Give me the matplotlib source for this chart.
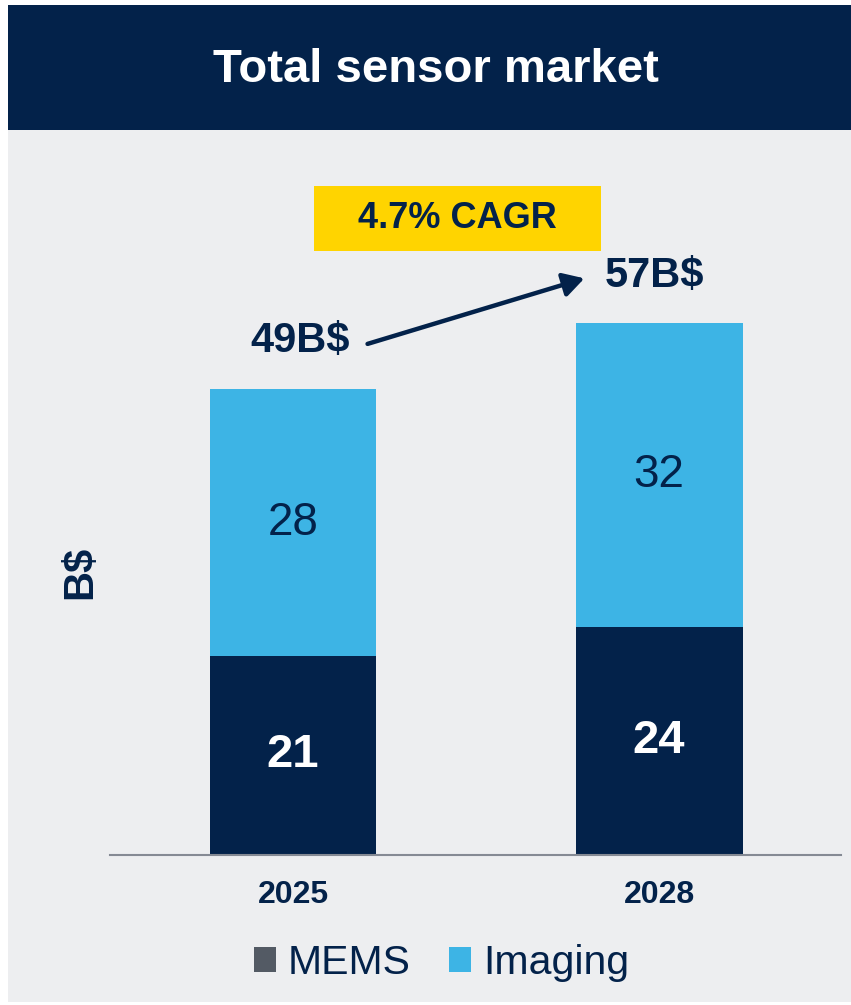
import matplotlib
matplotlib.use("Agg")
import matplotlib.pyplot as plt
from matplotlib.patches import Rectangle, Patch

plt.rcParams['font.family'] = ['Liberation Sans', 'DejaVu Sans']

# data
years = ['2025', '2028']
mems = [21, 24]
imaging = [28, 32]
totals = [49, 57]
total_labels = ['49B$', '57B$']
cagr_text = '4.7% CAGR'

NAVY = '#03224a'
BLUE = '#3db4e5'
BG = '#edeef0'
YELLOW = '#ffd400'
LEGEND_GRAY = '#535a64'

W, H = 851, 1005


def fx(px):
    return px / W


def fy(py):
    return 1 - py / H


fig = plt.figure(figsize=(W / 100, H / 100), dpi=100)
fig.patch.set_facecolor('white')

# gray panel and title banner
fig.patches.append(Rectangle((fx(8), fy(1002)), fx(851) - fx(8), fy(130) - fy(1002),
                             transform=fig.transFigure, facecolor=BG, edgecolor='none', zorder=-2))
fig.patches.append(Rectangle((fx(8), fy(130)), fx(851) - fx(8), fy(5) - fy(130),
                             transform=fig.transFigure, facecolor=NAVY, edgecolor='none', zorder=-2))
fig.text(fx(436), fy(70), 'Total sensor market', color='white', fontsize=34,
         fontweight='bold', ha='center', va='center')

ax = fig.add_axes([fx(110), fy(855), fx(841) - fx(110), 665 / H])
ax.set_facecolor('none')
ax.set_zorder(2)

x = list(range(len(years)))
b1 = ax.bar(x, mems, width=0.456, color=NAVY, zorder=2)
b2 = ax.bar(x, imaging, width=0.456, bottom=mems, color=BLUE, zorder=2)

ax.bar_label(b1, label_type='center', color='white', fontsize=34, fontweight='bold')
ax.bar_label(b2, label_type='center', color=NAVY, fontsize=33)

# total labels above bars
offsets = [(5, 35), (-3, 27)]
for i, (t, lab) in enumerate(zip(totals, total_labels)):
    ax.annotate(lab, xy=(x[i], t), xytext=offsets[i], textcoords='offset points',
                ha='center', va='center', fontsize=30, fontweight='bold', color=NAVY,
                annotation_clip=False)

# growth arrow
ax.annotate('', xy=(0.796, 60.7), xytext=(0.2036, 53.8),
            arrowprops=dict(arrowstyle='-|>,head_length=0.7,head_width=0.4',
                            mutation_scale=18, color=NAVY, lw=3.2,
                            shrinkA=0, shrinkB=0))

ax.set_xlim(-0.5, 1.497)
ax.set_ylim(0, 70)
ax.set_xticks(x)
ax.set_xticklabels(years, fontsize=23, fontweight='bold', color=NAVY)
ax.tick_params(axis='x', length=0, pad=18)
ax.set_yticks([])
for s in ['top', 'right', 'left']:
    ax.spines[s].set_visible(False)
ax.spines['bottom'].set_color('#858a94')
ax.spines['bottom'].set_linewidth(1.5)

fig.text(fx(80), fy(572), 'B$', rotation=90, fontsize=30, fontweight='bold',
         color=NAVY, ha='center', va='center')

# CAGR box
fig.patches.append(Rectangle((fx(314), fy(251)), fx(601) - fx(314), fy(186) - fy(251),
                             transform=fig.transFigure, facecolor=YELLOW, edgecolor='none', zorder=-1))
fig.text(fx(457.5), fy(219), cagr_text, fontsize=26, fontweight='bold', color=NAVY,
         ha='center', va='center', zorder=3)

handles = [Patch(facecolor=LEGEND_GRAY, label='MEMS'), Patch(facecolor=BLUE, label='Imaging')]
leg = fig.legend(handles=handles, loc='center', bbox_to_anchor=(fx(441.5), fy(963)),
                 ncol=2, frameon=False, fontsize=29.5, handlelength=0.54, handleheight=0.54,
                 handletextpad=0.3, columnspacing=0.93, borderpad=0)
for t in leg.get_texts():
    t.set_color(NAVY)

fig.savefig('out.png', dpi=100)
